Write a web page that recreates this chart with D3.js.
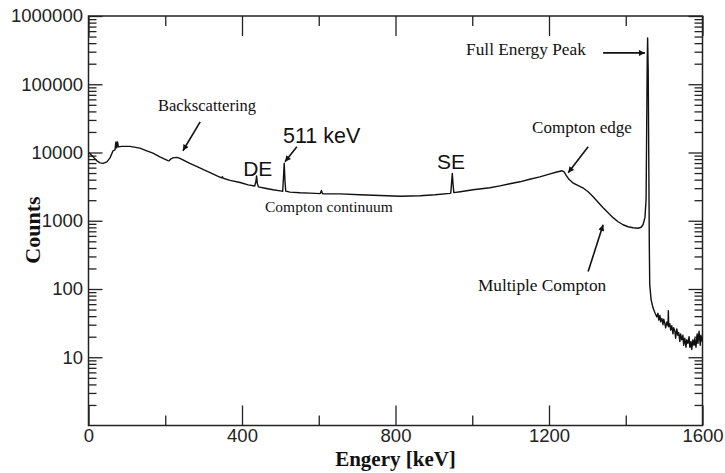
<!doctype html>
<html>
  <head>
    <script src="https://cdn.jsdelivr.net/npm/d3@7"></script>
    <style>
      body { margin: 0; background: #fff; }
      .tick text { font-family: "Liberation Sans", Arial, sans-serif; font-size: 18.5px; fill: #222; }
      .tick line { stroke: #222; stroke-width: 1.3px; }
      .serif { font-family: "Liberation Serif", "Times New Roman", serif; fill: #111; }
      .sans { font-family: "Liberation Sans", Arial, sans-serif; fill: #111; }
    </style>
  </head>
  <body>
    <div id="chart"></div>
    <script>
      // spectrum: energy in keV, counts per channel
      var energy = [1, 12, 22, 30, 38, 48, 56, 64, 69, 71.5, 73.5, 75.5, 78, 87, 108, 134, 152, 168, 186, 207,
        210, 215, 220, 231, 238, 246, 264, 283, 301, 317, 335, 347, 349, 351, 369, 395, 416,
        433, 436, 438, 440, 443, 460, 481, 504, 506, 508, 510, 512, 514, 525, 551, 577,
        604, 607, 610, 655, 707, 760, 812, 864, 903, 942, 944, 946, 948, 950, 952, 969,
        1002, 1046, 1072, 1098, 1124, 1150, 1176, 1203, 1218, 1234, 1239, 1244, 1252, 1262,
        1275, 1288, 1302, 1315, 1328, 1341, 1354, 1367, 1380, 1393, 1406, 1419, 1432, 1440,
        1445, 1450, 1453, 1454.5, 1456, 1457, 1458.5, 1460, 1461.5, 1462.5, 1466, 1471, 1476,
        1481, 1484, 1486, 1489, 1491, 1494, 1497, 1499, 1502, 1504, 1507, 1510, 1511, 1512,
        1515, 1517, 1520, 1523, 1525, 1528, 1530, 1533, 1536, 1538, 1541, 1543, 1546, 1549,
        1551, 1554, 1557, 1559, 1562, 1565, 1567, 1570, 1572, 1575, 1578, 1580, 1583, 1586,
        1588, 1591, 1594, 1596, 1599];
      var counts = [9890, 8630, 7550, 7060, 6940, 7290, 8350, 10580, 10940, 14320, 11700, 14320, 12100, 12300, 12300, 11600, 10570, 9790, 8640, 7620,
        7550, 8080, 8350, 8490, 8220, 7810, 6940, 6230, 5580, 5090, 4550, 4250, 4420, 4200, 3910, 3630, 3360,
        3230, 3700, 4550, 3500, 3130, 2990, 2840, 2720, 2700, 4200, 6980, 3800, 2720, 2630, 2570, 2540,
        2500, 2780, 2490, 2480, 2400, 2340, 2280, 2320, 2400, 2520, 2540, 3500, 4950, 3400, 2580, 2660,
        2840, 3040, 3250, 3480, 3720, 4050, 4400, 4870, 5130, 5400, 5230, 4710, 4050, 3600,
        3300, 3040, 2660, 2250, 1870, 1550, 1310, 1110, 967, 874, 817, 790, 777, 803,
        874, 1110, 2030, 21500, 227000, 476000, 162000, 7810, 376, 116, 70, 53, 45,
        39, 44, 35, 41, 33, 37, 30, 36, 31, 27, 33, 29, 48, 28,
        31, 25, 29, 22, 27, 24, 19, 26, 21, 23, 17, 22, 18, 21,
        15, 19, 14, 18, 16, 20, 14, 17, 13, 18, 15, 19, 14, 22,
        16, 24, 15, 21, 17];

      var xTicks = [0, 400, 800, 1200, 1600];
      var xMinorTicks = [200, 600, 1000, 1400];
      var yTicks = [10, 100, 1000, 10000, 100000, 1000000];
      var yMinorTicks = [];
      [1, 10, 100, 1000, 10000, 100000].forEach(function(dec) {
        for (var m = 2; m <= 9; m++) yMinorTicks.push(dec * m);
      });

      // annotations, anchored in data coordinates (keV, counts)
      var labels = [
        {text: "Backscattering", e: 181, c: 40700, cls: "serif", size: 16.5},
        {text: "511 keV", e: 507, c: 13800, cls: "sans", size: 21.5},
        {text: "DE", e: 403, c: 4550, cls: "sans", size: 21},
        {text: "SE", e: 908, c: 5770, cls: "sans", size: 21},
        {text: "Compton continuum", e: 460, c: 1355, cls: "serif", size: 15.5},
        {text: "Compton edge", e: 1156, c: 19400, cls: "serif", size: 17},
        {text: "Multiple Compton", e: 1015, c: 94, cls: "serif", size: 17.3},
        {text: "Full Energy Peak", e: 984, c: 268000, cls: "serif", size: 17.3}
      ];
      var arrows = [
        {e0: 291, c0: 28100, e1: 246, c1: 10600},
        {e0: 543, c0: 12100, e1: 512, c1: 7300},
        {e0: 1302, c0: 12100, e1: 1250, c1: 5040},
        {e0: 1302, c0: 180, e1: 1341, c1: 873},
        {e0: 1341, c0: 288000, e1: 1450, c1: 288000}
      ];

      var W = 725, H = 473;
      var plotL = 88.5, plotR = 702.5, plotT = 16, plotB = 425.5;

      var svg = d3.select("#chart").append("svg")
        .attr("width", W)
        .attr("height", H);

      svg.append("defs").append("marker")
        .attr("id", "head")
        .attr("viewBox", "0 0 10 10")
        .attr("refX", 10).attr("refY", 5)
        .attr("markerWidth", 7).attr("markerHeight", 6)
        .attr("markerUnits", "userSpaceOnUse")
        .attr("orient", "auto")
        .append("path")
          .attr("d", "M0,0L10,5L0,10z")
          .attr("fill", "#111");

      var x = d3.scaleLinear().domain([0, 1600]).range([plotL, plotR]);
      var y = d3.scaleLog().domain([1, 1e6]).range([plotB, plotT]);

      function noDomain(g) { g.select(".domain").remove(); }

      // bottom axis, ticks pointing up into the plot
      svg.append("g")
        .attr("transform", "translate(0," + plotB + ")")
        .call(d3.axisBottom(x).tickValues(xTicks).tickSize(-20).tickPadding(3).tickFormat(d3.format("d")))
        .call(noDomain);
      svg.append("g")
        .attr("transform", "translate(0," + plotB + ")")
        .call(d3.axisBottom(x).tickValues(xMinorTicks).tickSize(-10).tickFormat(""))
        .call(noDomain);

      // top axis, no labels
      svg.append("g")
        .attr("transform", "translate(0," + plotT + ")")
        .call(d3.axisTop(x).tickValues(xTicks).tickSize(-20).tickFormat(""))
        .call(noDomain);
      svg.append("g")
        .attr("transform", "translate(0," + plotT + ")")
        .call(d3.axisTop(x).tickValues(xMinorTicks).tickSize(-10).tickFormat(""))
        .call(noDomain);

      // left axis
      svg.append("g")
        .attr("transform", "translate(" + plotL + ",0)")
        .call(d3.axisLeft(y).tickValues(yTicks).tickSize(-14).tickPadding(5.5).tickFormat(d3.format("d")))
        .call(noDomain);
      svg.append("g")
        .attr("transform", "translate(" + plotL + ",0)")
        .call(d3.axisLeft(y).tickValues(yMinorTicks).tickSize(-8).tickFormat(""))
        .call(noDomain);

      // right axis
      svg.append("g")
        .attr("transform", "translate(" + plotR + ",0)")
        .call(d3.axisRight(y).tickValues(yTicks).tickSize(-14).tickFormat(""))
        .call(noDomain);
      svg.append("g")
        .attr("transform", "translate(" + plotR + ",0)")
        .call(d3.axisRight(y).tickValues(yMinorTicks).tickSize(-8).tickFormat(""))
        .call(noDomain);

      // frame
      svg.append("rect")
        .attr("x", plotL).attr("y", plotT)
        .attr("width", plotR - plotL).attr("height", plotB - plotT)
        .attr("fill", "none")
        .attr("stroke", "#222")
        .attr("stroke-width", 1.5);

      // spectrum
      var line = d3.line()
        .x(function(d, i) { return x(energy[i]); })
        .y(function(d) { return y(d); });

      svg.append("path")
        .datum(counts)
        .attr("d", line)
        .attr("fill", "none")
        .attr("stroke", "#111")
        .attr("stroke-width", 1.4)
        .attr("stroke-linejoin", "round");

      // annotations
      svg.selectAll("text.note")
        .data(labels)
        .enter()
        .append("text")
          .attr("class", function(d) { return "note " + d.cls; })
          .attr("x", function(d) { return x(d.e); })
          .attr("y", function(d) { return y(d.c); })
          .style("font-size", function(d) { return d.size + "px"; })
          .text(function(d) { return d.text; });

      svg.selectAll("line.arrow")
        .data(arrows)
        .enter()
        .append("line")
          .attr("class", "arrow")
          .attr("x1", function(d) { return x(d.e0); })
          .attr("y1", function(d) { return y(d.c0); })
          .attr("x2", function(d) { return x(d.e1); })
          .attr("y2", function(d) { return y(d.c1); })
          .attr("stroke", "#111")
          .attr("stroke-width", 1.6)
          .attr("marker-end", "url(#head)");

      // axis titles
      svg.append("text")
        .attr("class", "serif")
        .attr("transform", "translate(40,230) rotate(-90)")
        .attr("text-anchor", "middle")
        .style("font-size", "22px")
        .style("font-weight", "bold")
        .text("Counts");

      svg.append("text")
        .attr("class", "serif")
        .attr("x", x(800))
        .attr("y", 466)
        .attr("text-anchor", "middle")
        .style("font-size", "21px")
        .style("font-weight", "bold")
        .text("Engery [keV]");
    </script>
  </body>
</html>
